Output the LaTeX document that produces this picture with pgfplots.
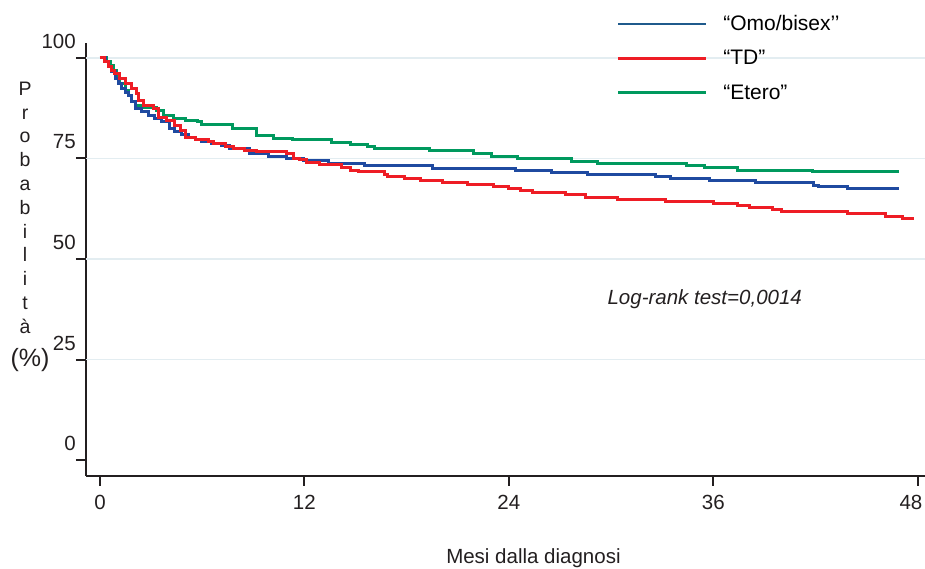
\documentclass[border=0pt]{standalone}
\usepackage{fontspec}
\setmainfont{Liberation Sans}
\usepackage{pgfplots}
\pgfplotsset{compat=1.18}
\definecolor{cblue}{HTML}{1F4AA0}
\definecolor{cred}{HTML}{EE1D25}
\definecolor{cgreen}{HTML}{00995E}
\definecolor{lblue}{HTML}{1F5A8C}
\definecolor{gridc}{HTML}{E3EDF1}
\definecolor{axc}{HTML}{231F20}
\begin{document}
\begin{tikzpicture}
\begin{axis}[
  at={(86pt,93.3pt)}, anchor=south west,
  scale only axis, width=839pt, height=433pt,
  xmin=-0.82, xmax=48.43, ymin=-3.9, ymax=103.8,
  axis lines=left, axis line style={-, line width=2pt, color=axc},
  tick align=outside, major tick length=10pt,
  tick style={line width=2pt, color=axc},
  xtick={0,12,24,36,48}, ytick={0,25,50,75,100},
  xticklabels={0,12,24,36,\makebox[0pt]{\hspace{-13.4pt}48}},
  xtick pos=left, ytick pos=left,
  /pgf/number format/assume math mode=true,
  ticklabel style={font=\fontsize{20.5}{22}\selectfont, text=axc},
  xticklabel style={anchor=base, inner sep=0pt, yshift=-24pt},
  yticklabel style={anchor=base east, inner sep=0pt, xshift=0pt, yshift=9.5pt},
  xlabel={Mesi dalla diagnosi},
  every axis x label/.style={at={(axis description cs:0.5333,-0.2039)}, anchor=base, font=\fontsize{20.5}{22}\selectfont, text=axc},
  ylabel={P\\r\\o\\b\\a\\b\\i\\l\\i\\t\\à\\[9.6pt]\makebox[0pt]{\hspace{10pt}\fontsize{25}{26}\selectfont(\%)}},
  every axis y label/.style={at={(axis description cs:-0.0727,0.9099)}, anchor=north, align=center, inner sep=0pt, font=\fontsize{19.5}{23.8}\selectfont, text=axc},
  legend style={draw=none, fill=none, at={(0.6325,1.064)}, anchor=north west, inner sep=0pt, row sep=18.5pt, column sep=15.4pt, font=\fontsize{21}{22}\selectfont, nodes={inner sep=0pt}},
  legend cell align=left,
  legend image code/.code={\draw[#1] (0pt,0pt) -- (88pt,0pt);},
]
\addlegendimage{lblue, line width=2pt}
\addlegendentry{“Omo/bisex’’}
\addlegendimage{cred, line width=3pt}
\addlegendentry{“TD”}
\addlegendimage{cgreen, line width=3pt}
\addlegendentry{“Etero”}

\draw[gridc, line width=1.5pt] (axis cs:-0.82,25) -- (axis cs:48.43,25);
\draw[gridc, line width=1.5pt] (axis cs:-0.82,50) -- (axis cs:48.43,50);
\draw[gridc, line width=1.5pt] (axis cs:-0.82,75) -- (axis cs:48.43,75);
\draw[gridc, line width=1.5pt] (axis cs:-0.82,100) -- (axis cs:48.43,100);

% Etero
\addplot[const plot, cgreen, line width=3pt, forget plot] coordinates {
(0,100) (0.4,99.2) (0.59,98.2) (0.78,96.9) (0.98,95.3) (1.17,93.6) (1.47,92.0)
(1.66,90.7) (1.86,89.2) (2.06,88.2) (2.64,87.8) (3.33,87.0) (3.72,85.7) (4.3,84.9)
(5.0,84.5) (5.7,84.1) (5.97,83.4) (7.8,82.5) (9.2,80.8) (10.2,80.0) (11.3,79.6)
(13.6,78.9) (14.7,78.5) (15.7,77.9) (16.1,77.4) (19.35,76.9) (21.9,76.3) (23.0,75.6)
(24.5,74.9) (27.7,74.3) (29.2,73.8) (34.4,73.3) (35.5,72.7) (37.4,72.1) (41.8,71.7)
(46.9,71.7)};
% Omo/bisex
\addplot[const plot, cblue, line width=3pt, forget plot] coordinates {
(0,100) (0.3,99) (0.5,97.8) (0.7,96.6) (0.92,94.9) (1.08,93.6) (1.27,92.4) (1.5,91.5)
(1.66,90.7) (1.86,89.1) (2.06,87.4) (2.45,86.6) (2.84,85.7) (3.23,84.9) (3.62,84.1)
(4.11,82.4) (4.4,81.6) (4.8,80.9) (5.19,80.3) (5.58,79.8) (5.97,79.3) (6.56,78.7)
(7.14,78.3) (7.6,77.5) (8.8,76.3) (9.9,75.6) (10.96,75.0) (11.94,74.4) (13.4,73.8)
(15.5,73.2) (19.5,72.6) (24.4,72.1) (26.5,71.6) (28.6,71.1) (32.6,70.5) (33.5,70.1)
(35.8,69.5) (38.5,69.0) (41.9,68.4) (42.2,68.0) (43.9,67.5) (46.9,67.5)};
% TD
\addplot[const plot, cred, line width=3pt, forget plot] coordinates {
(0,100) (0.25,99) (0.49,97.8) (0.7,97) (0.88,96.1) (1.17,94.9) (1.47,93.6) (1.86,92.4)
(2.15,91.1) (2.25,89.5) (2.54,88.2) (3.13,87.4) (3.42,85.3) (3.91,84.5) (4.4,83.3)
(4.7,82.0) (5.0,80.3) (5.58,79.8) (6.36,79.3) (6.65,78.7) (7.34,78.0) (7.83,77.5)
(8.5,77.0) (9.2,76.7) (10.96,76.3) (11.35,75.0) (11.74,74.8) (12.1,74.0) (12.9,73.4)
(14.2,72.7) (14.7,72.1) (15.2,71.7) (16.7,71.1) (16.9,70.6) (17.9,70.1) (18.8,69.6)
(20.1,69.1) (21.6,68.6) (23.1,68.0) (24.0,67.5) (24.7,67.0) (25.4,66.5) (27.3,66.0)
(28.5,65.4) (30.4,64.9) (33.2,64.4) (36.0,63.8) (37.4,63.3) (38.1,62.8) (39.5,62.4)
(40.0,61.8) (43.9,61.2) (46.1,60.5) (47.1,60.0) (47.8,60.0)};

\node[font=\itshape\fontsize{20.5}{22}\selectfont, text=axc] at (axis cs:35.5,40) {Log-rank test=0,0014};
\end{axis}
\pgfresetboundingbox
\path[use as bounding box] (0pt,0pt) rectangle (925pt,569pt);
\end{tikzpicture}
\end{document}
